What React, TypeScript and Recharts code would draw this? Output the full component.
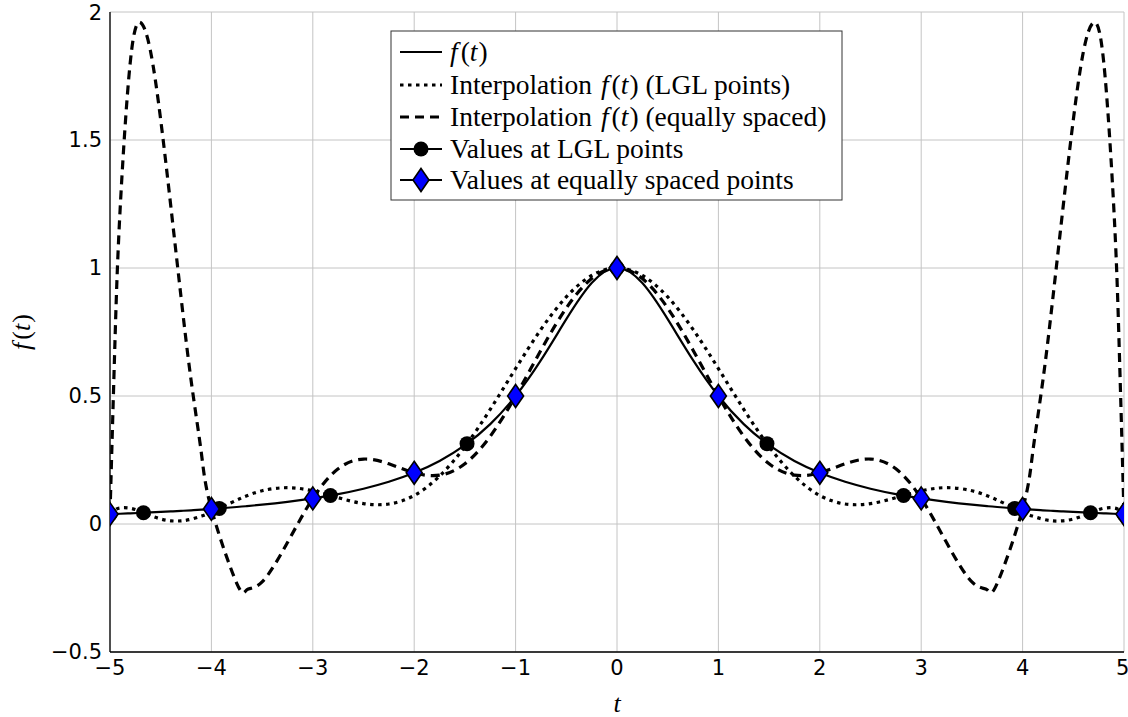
import React from "react";
import { ComposedChart, Line, Scatter, XAxis, YAxis, CartesianGrid, Label } from "recharts";

// sample positions on the t axis (shared by the three curves)
const tValues = [
  -5, -4.95, -4.9, -4.8, -4.7, -4.6, -4.5, -4.4, -4.3, -4.2, -4.1, -4, -3.75, -3.65, -3.5, -3.25, -3,
  -2.75, -2.5, -2.25, -2, -1.75, -1.5, -1.25, -1, -0.75, -0.5, -0.25, 0, 0.25, 0.5, 0.75, 1, 1.25, 1.5,
  1.75, 2, 2.25, 2.5, 2.75, 3, 3.25, 3.5, 3.65, 3.75, 4, 4.1, 4.2, 4.3, 4.4, 4.5, 4.6, 4.7, 4.8, 4.9,
  4.95, 5,
];

const fValues = [
  0.0385, 0.0392, 0.04, 0.0416, 0.0433, 0.0451, 0.0471, 0.0491, 0.0513, 0.0536, 0.0561, 0.0588, 0.0664,
  0.0698, 0.0755, 0.0865, 0.1, 0.1168, 0.1379, 0.1649, 0.2, 0.2462, 0.3077, 0.3902, 0.5, 0.64, 0.8,
  0.9412, 1, 0.9412, 0.8, 0.64, 0.5, 0.3902, 0.3077, 0.2462, 0.2, 0.1649, 0.1379, 0.1168, 0.1, 0.0865,
  0.0755, 0.0698, 0.0664, 0.0588, 0.0561, 0.0536, 0.0513, 0.0491, 0.0471, 0.0451, 0.0433, 0.0416, 0.04,
  0.0392, 0.0385,
];

const lglInterp = [
  0.0385, 0.0548, 0.0627, 0.0616, 0.0486, 0.0328, 0.0197, 0.0125, 0.0122, 0.0186, 0.0306, 0.0468,
  0.0935, 0.1104, 0.1299, 0.1419, 0.1292, 0.1027, 0.0797, 0.078, 0.1115, 0.187, 0.3024, 0.4479, 0.607,
  0.7601, 0.887, 0.9707, 1, 0.9707, 0.887, 0.7601, 0.607, 0.4479, 0.3024, 0.187, 0.1115, 0.078, 0.0797,
  0.1027, 0.1292, 0.1419, 0.1299, 0.1104, 0.0935, 0.0468, 0.0306, 0.0186, 0.0122, 0.0125, 0.0197,
  0.0328, 0.0486, 0.0616, 0.0627, 0.0548, 0.0385,
];

const equiInterp = [
  0.0385, 0.7261, 1.2303, 1.8044, 1.959, 1.8458, 1.5787, 1.2402, 0.8881, 0.5604, 0.2802, 0.0588,
  -0.2315, -0.2569, -0.2262, -0.0726, 0.1, 0.2156, 0.2538, 0.235, 0.2, 0.1906, 0.2353, 0.3426, 0.5,
  0.679, 0.8434, 0.9586, 1, 0.9586, 0.8434, 0.679, 0.5, 0.3426, 0.2353, 0.1906, 0.2, 0.235, 0.2538,
  0.2156, 0.1, -0.0726, -0.2262, -0.2569, -0.2315, 0.0588, 0.2802, 0.5604, 0.8881, 1.2402, 1.5787,
  1.8458, 1.959, 1.8044, 1.2303, 0.7261, 0.0385,
];

const lglT = [-5, -4.67, -3.9224, -2.8262, -1.4788, 0, 1.4788, 2.8262, 3.9224, 4.67, 5];
const lglV = [0.0385, 0.0438, 0.061, 0.1113, 0.3138, 1, 0.3138, 0.1113, 0.061, 0.0438, 0.0385];

const equiT = [-5, -4, -3, -2, -1, 0, 1, 2, 3, 4, 5];
const equiV = [0.0385, 0.0588, 0.1, 0.2, 0.5, 1, 0.5, 0.2, 0.1, 0.0588, 0.0385];

const xTicks = [-5, -4, -3, -2, -1, 0, 1, 2, 3, 4, 5];
const yTicks = [-0.5, 0, 0.5, 1, 1.5, 2];

const legendLabels = [
  "f(t)",
  "Interpolation f(t) (LGL points)",
  "Interpolation f(t) (equally spaced)",
  "Values at LGL points",
  "Values at equally spaced points",
];

const fRows = tValues.map((t, i) => ({ t, v: fValues[i] }));
const lglRows = tValues.map((t, i) => ({ t, v: lglInterp[i] }));
const equiRows = tValues.map((t, i) => ({ t, v: equiInterp[i] }));
const lglPts = lglT.map((t, i) => ({ t, v: lglV[i] }));
const equiPts = equiT.map((t, i) => ({ t, v: equiV[i] }));

const SERIF = "'Liberation Serif', 'Times New Roman', serif";
const SANS = "'DejaVu Sans', sans-serif";

const fmt = (v: number) => String(v).replace("-", "\u2212");

const Dot = (p: any) => <circle cx={p.cx} cy={p.cy} r={7.5} fill="#000" />;
const Diamond = (p: any) => (
  <path
    d={`M${p.cx},${p.cy - 11.5} L${p.cx + 8},${p.cy} L${p.cx},${p.cy + 11.5} L${p.cx - 8},${p.cy} Z`}
    fill="#0000ff"
    stroke="#000"
    strokeWidth={1.6}
  />
);

// renders a label, setting f(t) in italic math letters
function MathText({ label }: { label: string }) {
  const parts = label.split("f(t)");
  const out: React.ReactNode[] = [];
  parts.forEach((p, i) => {
    if (p) out.push(<tspan key={"p" + i}>{p}</tspan>);
    if (i < parts.length - 1) {
      out.push(
        <tspan key={"m" + i}>
          <tspan fontStyle="italic" dx={i > 0 || p ? 2 : 0}>f</tspan>
          <tspan dx={3}>(</tspan>
          <tspan fontStyle="italic">t</tspan>
          <tspan dx={1}>)</tspan>
        </tspan>
      );
    }
  });
  return <>{out}</>;
}

function LegendBox() {
  const rowY = [52, 85, 117, 149, 180];
  return (
    <svg
      width={1128}
      height={717}
      style={{ position: "absolute", left: 0, top: 0, pointerEvents: "none" }}
    >
      <rect x={391} y={31} width={451} height={169} fill="#fff" stroke="#333" strokeWidth={1} />
      {legendLabels.map((lab, i) => {
        const y = rowY[i];
        return (
          <g key={lab}>
            {i === 0 && <line x1={400} x2={442} y1={y} y2={y} stroke="#000" strokeWidth={2.2} />}
            {i === 1 && (
              <line x1={400} x2={442} y1={y} y2={y} stroke="#000" strokeWidth={3} strokeDasharray="3.5 4.5" />
            )}
            {i === 2 && (
              <line x1={400} x2={442} y1={y} y2={y} stroke="#000" strokeWidth={3} strokeDasharray="9 6" />
            )}
            {i >= 3 && <line x1={400} x2={442} y1={y} y2={y} stroke="#000" strokeWidth={2.2} />}
            {i === 3 && <Dot cx={421} cy={y} />}
            {i === 4 && <Diamond cx={421} cy={y} />}
            <text x={450} y={y + 9} fontFamily={SERIF} fontSize={27.5} fill="#000">
              <MathText label={lab} />
            </text>
          </g>
        );
      })}
    </svg>
  );
}

export default function App() {
  return (
    <div style={{ position: "absolute", left: 0, top: 0, width: 1128, height: 717, background: "#fff" }}>
      <ComposedChart width={1128} height={717} margin={{ top: 12, right: 4, bottom: 0, left: 0 }}>
        <CartesianGrid stroke="#c4c4c4" strokeWidth={1} />
        <XAxis
          type="number"
          dataKey="t"
          domain={[-5, 5]}
          ticks={xTicks}
          allowDataOverflow
          height={65}
          tickLine={false}
          axisLine={{ stroke: "#000", strokeWidth: 1.3 }}
          tick={{ fill: "#000", fontSize: 21, fontFamily: SANS }}
          tickFormatter={fmt}
        >
          <Label
            content={() => (
              <text x={617} y={712} textAnchor="middle" fontFamily={SERIF} fontStyle="italic" fontSize={26}>
                t
              </text>
            )}
          />
        </XAxis>
        <YAxis
          type="number"
          dataKey="v"
          domain={[-0.5, 2]}
          ticks={yTicks}
          allowDataOverflow
          width={110}
          tickLine={false}
          axisLine={{ stroke: "#000", strokeWidth: 1.3 }}
          tick={{ fill: "#000", fontSize: 21, fontFamily: SANS }}
          tickFormatter={fmt}
        >
          <Label
            content={() => (
              <text
                x={30}
                y={332}
                textAnchor="middle"
                transform="rotate(-90, 30, 332)"
                fontFamily={SERIF}
                fontSize={26}
              >
                <tspan fontStyle="italic">f</tspan>
                <tspan dx={3}>(</tspan>
                <tspan fontStyle="italic">t</tspan>
                <tspan dx={1}>)</tspan>
              </text>
            )}
          />
        </YAxis>
        <Line data={fRows} dataKey="v" type="natural" stroke="#000" strokeWidth={2.2} dot={false} isAnimationActive={false} />
        <Line
          data={lglRows}
          dataKey="v"
          type="natural"
          stroke="#000"
          strokeWidth={3.2}
          strokeDasharray="3.5 4.5"
          dot={false}
          isAnimationActive={false}
        />
        <Line
          data={equiRows}
          dataKey="v"
          type="natural"
          stroke="#000"
          strokeWidth={3.2}
          strokeDasharray="9 6"
          dot={false}
          isAnimationActive={false}
        />
        <Scatter data={lglPts} dataKey="v" shape={Dot} isAnimationActive={false} />
        <Scatter data={equiPts} dataKey="v" shape={Diamond} isAnimationActive={false} />
      </ComposedChart>
      <LegendBox />
    </div>
  );
}
